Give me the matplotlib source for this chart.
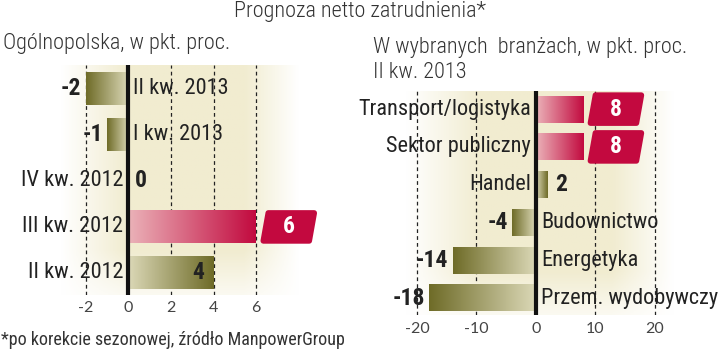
import numpy as np
import matplotlib
matplotlib.use('Agg')
import matplotlib.pyplot as plt
import matplotlib.transforms as mtransforms
from matplotlib.patches import Polygon
from matplotlib.colors import LinearSegmentedColormap
from matplotlib import font_manager

# data
quarters = ['II kw. 2013', 'I kw. 2013', 'IV kw. 2012', 'III kw. 2012', 'II kw. 2012']
national = [-2, -1, 0, 6, 4]
sectors = ['Transport/logistyka', 'Sektor publiczny', 'Handel', 'Budownictwo',
           'Energetyka', 'Przem. wydobywczy']
sector_vals = [8, 8, 2, -4, -14, -18]
left_ticks = [-2, 0, 2, 4, 6]
right_ticks = [-20, -10, 0, 10, 20]

names = {f.name for f in font_manager.fontManager.ttflist}
FONT = 'DejaVu Sans'
for cand in ['Roboto Condensed', 'Liberation Sans Narrow', 'Open Sans Condensed']:
    if cand in names:
        FONT = cand
        break
TICKFONT = 'Lato' if 'Lato' in names else 'DejaVu Sans'
plt.rcParams['font.family'] = [FONT, 'DejaVu Sans']

W, H = 720, 351
fig = plt.figure(figsize=(7.2, 3.51), dpi=100, facecolor='white')

olive = LinearSegmentedColormap.from_list('olive', ['#dcd9b8', '#6e6b27'])
crimson = LinearSegmentedColormap.from_list('crim', ['#ebb3b9', '#c20a3f'])
bgmap = LinearSegmentedColormap.from_list('bg', ['#ffffff', '#f1ecd0'])


def px_axes(l, t, r, b):
    return fig.add_axes([l / W, 1 - b / H, (r - l) / W, (b - t) / H])


def draw_chart(ax, cats, vals, xlim, ylim, ticks, tickpad, inside):
    # background gradient
    prof = np.concatenate([np.linspace(0, 1, 30), np.ones(50), np.linspace(1, 0, 25)])
    vprof = np.concatenate([np.ones(80), np.linspace(1, 0.3, 20)])
    bg = np.outer(vprof, prof)
    ax.imshow(bg, cmap=bgmap, vmin=0, vmax=1, extent=(0, 1, 0, 1),
              transform=ax.transAxes, aspect='auto', zorder=0)
    vmax = max(vals)
    grad = np.linspace(0, 1, 256).reshape(1, -1)
    h = 0.71
    for i, (c, v) in enumerate(zip(cats, vals)):
        cmap = crimson if v == vmax else olive
        if v != 0:
            ax.imshow(grad, cmap=cmap, extent=(0, v, i + h / 2, i - h / 2),
                      aspect='auto', zorder=2, interpolation='bilinear')
        off = mtransforms.offset_copy(ax.transData, fig=fig, x=-4, units='dots')
        offr = mtransforms.offset_copy(ax.transData, fig=fig, x=5, units='dots')
        if v < 0:
            ax.text(v, i, str(v), transform=off, ha='right', va='center',
                    fontsize=17, fontweight='bold', color='#222222')
            ax.text(0, i, c, transform=offr, ha='left', va='center',
                    fontsize=16, color='#222222')
        else:
            ax.text(0, i, c, transform=mtransforms.offset_copy(ax.transData, fig=fig, x=-5, units='dots'),
                    ha='right', va='center', fontsize=16, color='#222222')
            if v == vmax:
                tr = mtransforms.ScaledTranslation(v, i, ax.transData)
                bw, bh, s, gap = 46, 28, 5, 7
                verts = [(gap, -bh / 2), (gap + bw, -bh / 2),
                         (gap + bw + s, bh / 2), (gap + s, bh / 2)]
                ax.add_patch(Polygon(verts, closed=True, transform=tr,
                                     facecolor='#c3093f', edgecolor='#c3093f',
                                     linewidth=4, joinstyle='round', zorder=4,
                                     clip_on=False))
                ax.text(gap + s / 2 + bw / 2, 0, str(v), transform=tr,
                        ha='center', va='center', fontsize=17,
                        fontweight='bold', color='white', zorder=5)
            elif v == 0 or not inside:
                ax.text(v, i, str(v), transform=mtransforms.offset_copy(ax.transData, fig=fig, x=7, units='dots'),
                        ha='left', va='center', fontsize=17, fontweight='bold',
                        color='#222222')
            else:
                ax.text(v, i, str(v), transform=mtransforms.offset_copy(ax.transData, fig=fig, x=-9, units='dots'),
                        ha='right', va='center', fontsize=17, fontweight='bold',
                        color='#222222', zorder=5)
    for t in ticks:
        if t != 0:
            ax.axvline(t, color='#222222', linewidth=0.9, linestyle=(0, (3, 2.5)),
                       zorder=1)
    ax.axvline(0, color='#111111', linewidth=3, zorder=3)
    ax.set_xlim(*xlim)
    ax.set_ylim(*ylim)
    ax.set_xticks(ticks)
    ax.set_xticklabels([str(t) for t in ticks], family=TICKFONT)
    ax.tick_params(axis='x', length=0, pad=tickpad, labelsize=11.5, labelcolor='#444444')
    ax.set_yticks([])
    for sp in ax.spines.values():
        sp.set_visible(False)


ax1 = px_axes(60, 65, 300, 295)
draw_chart(ax1, quarters, national, (-3.2, 8.05), (4.48, -0.52), left_ticks, 4, True)

ax2 = px_axes(405, 91, 675, 315)
draw_chart(ax2, sectors, sector_vals, (-22.0, 23.4), (5.45, -0.48), right_ticks, 5, False)

fig.text(360 / W, 1 - 12 / H, 'Prognoza netto zatrudnienia*', ha='center', va='center',
         fontsize=16, fontweight='light', color='#333333')
fig.text(3 / W, 1 - 43 / H, 'Ogólnopolska, w pkt. proc.', ha='left', va='center',
         fontsize=16, fontweight='light', color='#333333')
fig.text(373 / W, 1 - 47 / H, 'W wybranych  branżach, w pkt. proc.', ha='left', va='center',
         fontsize=16, fontweight='light', color='#333333')
fig.text(373 / W, 1 - 72 / H, 'II kw. 2013', ha='left', va='center',
         fontsize=16, fontweight='light', color='#333333')
fig.text(1 / W, 1 - 340 / H, '*po korekcie sezonowej, źródło ManpowerGroup', ha='left',
         va='center', fontsize=13, color='#333333')

fig.savefig('out.png', dpi=100, facecolor='white')
